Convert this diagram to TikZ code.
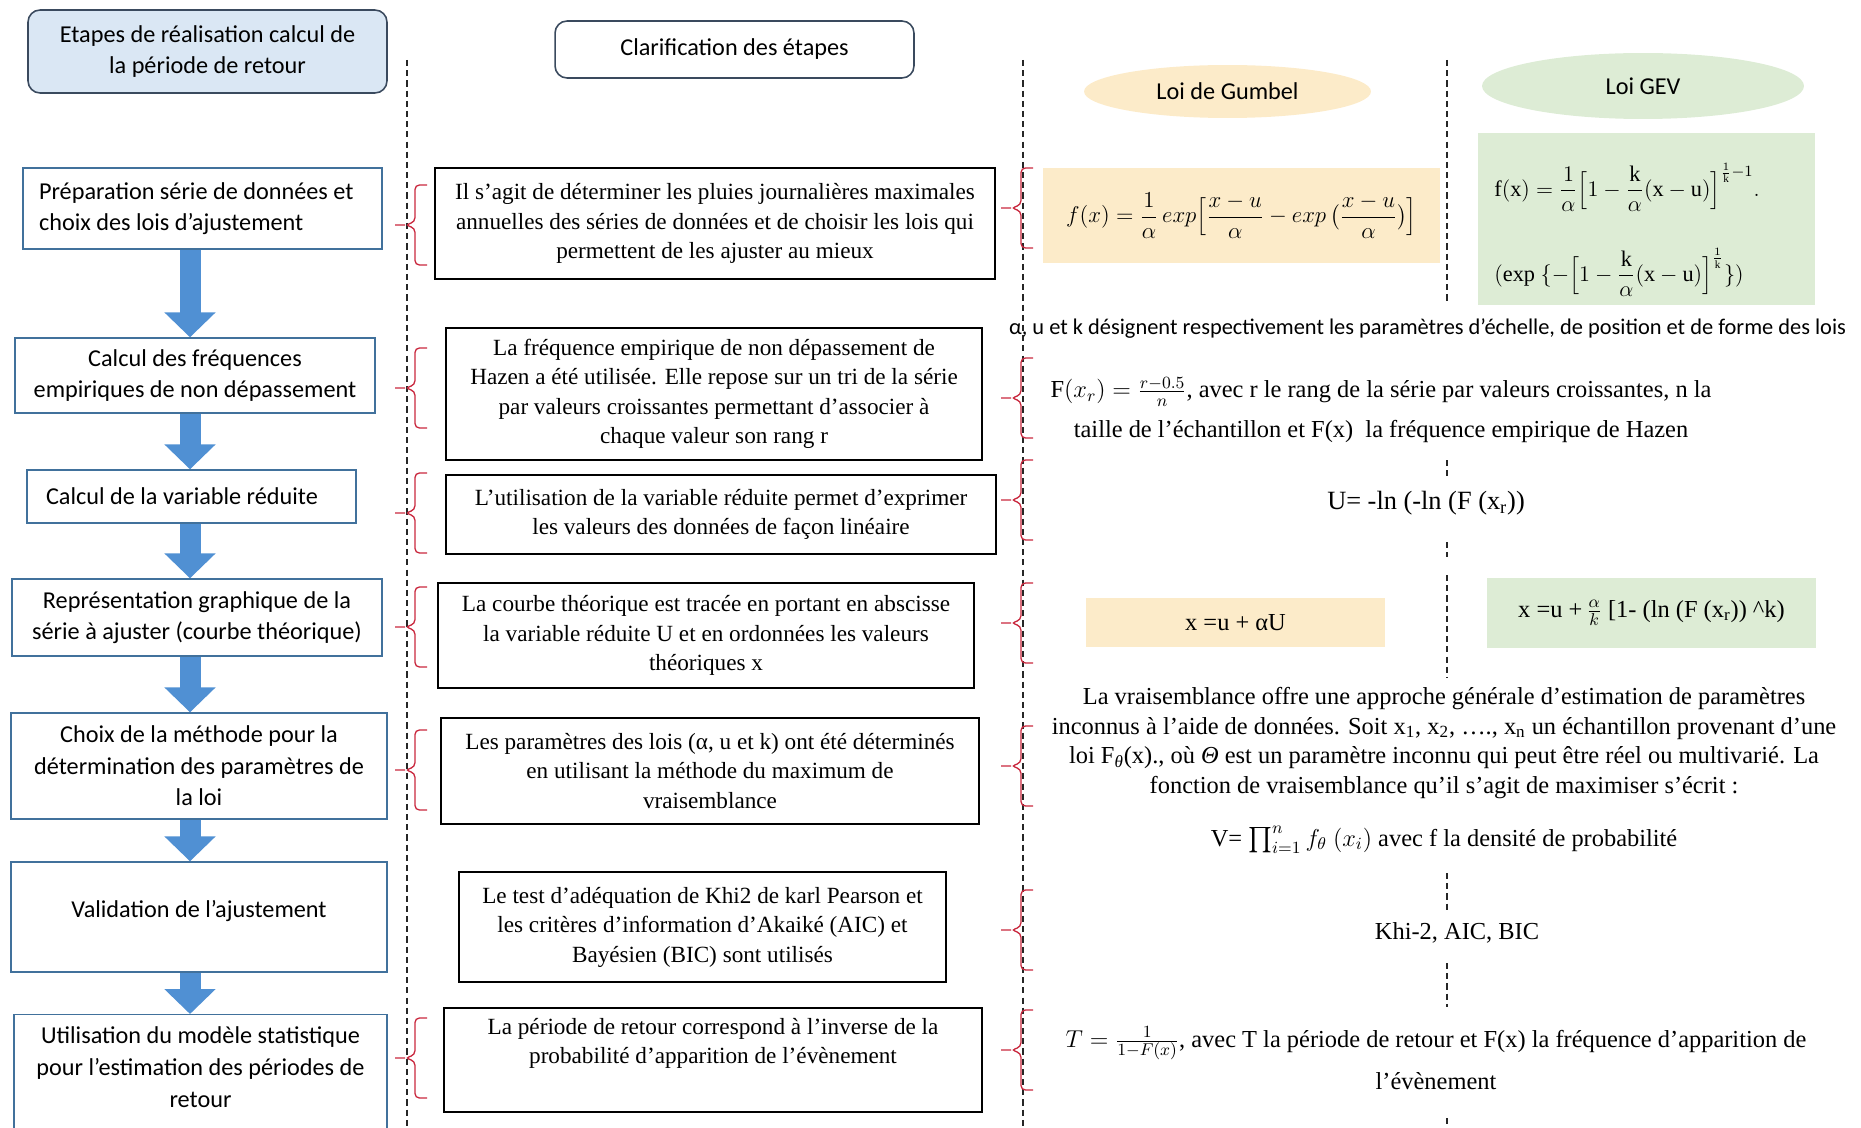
\RequirePackage{fix-cm}
\documentclass[tikz,border=0pt]{standalone}
\usepackage{amsmath}
\usepackage{fontspec}
\setmainfont{Liberation Serif}
\newfontfamily\calibfont{Carlito}
\usetikzlibrary{arrows.meta, positioning, shapes.geometric}

\definecolor{stepblue}{HTML}{41719C}
\definecolor{headline}{HTML}{3A4A5E}
\definecolor{headfill}{HTML}{DAE7F4}
\definecolor{arrowblue}{HTML}{5090D3}
\definecolor{bracered}{HTML}{C9283E}
\definecolor{gumbelfill}{HTML}{FCEBC9}
\definecolor{gevfill}{HTML}{DDECD5}

\begin{document}
\begin{tikzpicture}[
    x=0.02cm,
    y=-0.02cm,
    >=Stealth,
    stepbox/.style={draw=stepblue, line width=0.8pt, fill=white, align=center, inner sep=0pt,
        font=\calibfont\fontsize{13.8}{18}\selectfont},
    headbox/.style={draw=headline, line width=0.9pt, rounded corners=0.24cm, align=center, inner sep=0pt,
        font=\calibfont\fontsize{13.8}{18}\selectfont},
    notebox/.style={draw=black, line width=1pt, align=center, inner sep=0pt,
        font=\fontsize{13.2}{16.8}\selectfont},
    lawshape/.style={ellipse, inner sep=0pt, font=\calibfont\fontsize{13.8}{18}\selectfont},
    formbox/.style={inner sep=0pt, align=center, font=\fontsize{13.9}{16.8}\selectfont},
    plaintext/.style={inner sep=0pt, align=center, font=\fontsize{13.9}{16.8}\selectfont},
    flowarrow/.style={draw=arrowblue, line width=0.42cm, -{Triangle[width=1cm, length=0.5cm]}},
    vline/.style={draw=black!85, line width=0.7pt, dash pattern=on 3.5pt off 2.3pt},
    redbrace/.style={draw=bracered, line width=0.75pt, rounded corners=2.5pt}
]
\useasboundingbox (0,0) rectangle (1861,1128);

% Column separators
\draw[vline] (407,60) -- (407,1128);
\draw[vline] (1023,60) -- (1023,1128);
\foreach \ya/\yb in {60/303, 460/477, 542/557, 575/677, 873/910, 963/1007, 1118/1128}
    \draw[vline] (1447,\ya) -- (1447,\yb);

% =========================
% Steps
% =========================
\node[headbox, fill=headfill, minimum width=7.18cm, minimum height=1.66cm] (stepstitle)
    at (207.5,51.5) {Etapes de réalisation calcul de\\la période de retour};

\node[stepbox, minimum width=7.18cm, minimum height=1.62cm, align=flush left,
      text width=6.54cm, inner xsep=0.32cm] (prep)
    at (202.5,208.5) {Préparation série de données et\\choix des lois d’ajustement};
\node[stepbox, minimum width=7.2cm, minimum height=1.5cm] (freq)
    at (195,375.5) {Calcul des fréquences\\empiriques de non dépassement};
\node[stepbox, minimum width=6.58cm, minimum height=1.06cm, align=flush left,
      text width=5.82cm, inner xsep=0.38cm] (reduc)
    at (191.5,496.5) {Calcul de la variable réduite};
\node[stepbox, minimum width=7.4cm, minimum height=1.54cm] (graph)
    at (197,617.5) {Représentation graphique de la\\série à ajuster (courbe théorique)};
\node[stepbox, minimum width=7.52cm, minimum height=2.12cm] (method)
    at (199,766) {Choix de la méthode pour la\\détermination des paramètres de\\la loi};
\node[stepbox, minimum width=7.52cm, minimum height=2.2cm] (valid)
    at (199,917) {\raisebox{0.32cm}{Validation de l’ajustement}};
\node[stepbox, minimum width=7.46cm, minimum height=2.92cm, anchor=north] (usage)
    at (200.5,1014) {Utilisation du modèle statistique\\pour l’estimation des périodes de\\retour\\ \strut};

% Flow arrows
\coordinate (axis) at (190,0);
\foreach \a/\b in {prep/freq, freq/reduc, reduc/graph, graph/method, method/valid, valid/usage}
    \draw[flowarrow] (\a.south -| axis) -- (\b.north -| axis);

% =========================
% Clarification
% =========================
\node[headbox, fill=white, minimum width=7.18cm, minimum height=1.14cm] (cliftitle)
    at (734.5,49.5) {Clarification des étapes};

\node[notebox, minimum width=11.2cm, minimum height=2.22cm] (prepnote)
    at (715,223.5) {Il s’agit de déterminer les pluies journalières maximales\\
    annuelles des séries de données et de choisir les lois qui\\
    permettent de les ajuster au mieux};
\node[notebox, minimum width=10.72cm, minimum height=2.64cm] (freqnote)
    at (714,394) {La fréquence empirique de non dépassement de\\
    Hazen a été utilisée. Elle repose sur un tri de la série\\
    par valeurs croissantes permettant d’associer à\\
    chaque valeur son rang r};
\node[notebox, minimum width=11cm, minimum height=1.58cm] (reducnote)
    at (721,514.5) {L’utilisation de la variable réduite permet d’exprimer\\
    les valeurs des données de façon linéaire};
\node[notebox, minimum width=10.72cm, minimum height=2.1cm] (graphnote)
    at (706,635.5) {La courbe théorique est tracée en portant en abscisse\\
    la variable réduite U et en ordonnées les valeurs\\
    théoriques x};
\node[notebox, minimum width=10.76cm, minimum height=2.12cm] (methodnote)
    at (710,771) {Les paramètres des lois (α, u et k) ont été déterminés\\
    en utilisant la méthode du maximum de\\
    vraisemblance};
\node[notebox, minimum width=9.74cm, minimum height=2.2cm] (validnote)
    at (702.5,927) {Le test d’adéquation de Khi2 de karl Pearson et\\
    les critères d’information d’Akaiké (AIC) et\\
    Bayésien (BIC) sont utilisés};
\node[notebox, minimum width=10.76cm, minimum height=2.08cm] (usagenote)
    at (713,1060) {La période de retour correspond à l’inverse de la\\
    probabilité d’apparition de l’évènement\\ \strut};

% Braces (bar x / top y)
\foreach \bx/\ty in {415/185, 415/348, 415/473, 415/587, 415/730, 415/1018,
                     1021/168, 1021/358, 1021/460, 1021/583, 1021/726, 1021/890, 1021/1010}
    \draw[redbrace] (\bx+12,\ty) -- (\bx,\ty) -- (\bx,\ty+37) -- (\bx-10,\ty+40)
        -- (\bx,\ty+43) -- (\bx,\ty+80) -- (\bx+12,\ty+80)
        (\bx-10,\ty+40) -- (\bx-20,\ty+40);

% =========================
% Gumbel / GEV
% =========================
\node[lawshape, fill=gumbelfill, minimum width=5.74cm, minimum height=1.06cm] (gumbel)
    at (1227.5,91.5) {Loi de Gumbel};
\node[lawshape, fill=gevfill, minimum width=6.44cm, minimum height=1.32cm] (gev)
    at (1643,86) {Loi GEV};

\node[formbox, fill=gumbelfill, minimum width=7.94cm, minimum height=1.9cm,
      font=\fontsize{13}{17}\selectfont] (gumbelpdf)
    at (1241.5,215.5)
    {$f(x) = \dfrac{1}{\alpha}\,exp\Bigl[\dfrac{x-u}{\alpha} - exp\,\bigl(\dfrac{x-u}{\alpha}\bigr)\Bigr]$};
\node[fill=gevfill, minimum width=6.74cm, minimum height=3.44cm] (gevpdf) at (1646.5,219) {};
\node[formbox, align=left, anchor=west, font=\fontsize{12.7}{16.8}\selectfont] (gevtext) at (1494,230)
    {$\mathrm{f(x)} = \dfrac{1}{\alpha}\Bigl[1-\dfrac{\mathrm{k}}{\alpha}(\mathrm{x}-\mathrm{u})\Bigr]^{\frac{1}{\mathrm{k}}-1}.$\\[0.7cm]
     $(\mathrm{exp}\ \{-\Bigl[1-\dfrac{\mathrm{k}}{\alpha}(\mathrm{x}-\mathrm{u})\Bigr]^{\frac{1}{\mathrm{k}}}\})$};

\node[inner sep=0pt, font=\calibfont\fontsize{12.75}{15}\selectfont] (paramnote)
    at (1427.5,329) {α, u et k désignent respectivement les paramètres d’échelle, de position et de forme des lois};

\node[plaintext, font=\fontsize{13.9}{22.7}\selectfont] (hazen)
    at (1381,410) {F$(x_r) = \frac{r-0.5}{n}$, avec r le rang de la série par valeurs croissantes, n la\\
    taille de l’échantillon et F(x)\ \ la fréquence empirique de Hazen};

\node[plaintext, font=\fontsize{15}{18}\selectfont] (ured) at (1426,503) {U= -ln (-ln (F (x\textsubscript{r}))};

\node[formbox, fill=gumbelfill, minimum width=5.98cm, minimum height=0.98cm] (xgumbel)
    at (1235.5,622.5) {x =u + αU};
\node[formbox, fill=gevfill, minimum width=6.58cm, minimum height=1.4cm] (xgev)
    at (1651.5,613) {x =u +\,$\frac{\alpha}{k}$ [1- (ln (F (x\textsubscript{r})) \textasciicircum k)};

\node[plaintext] (vrais) at (1444,743)
    {La vraisemblance offre une approche générale d’estimation de paramètres\\
    inconnus à l’aide de données. Soit x\textsubscript{1}, x\textsubscript{2}, …., x\textsubscript{n} un échantillon provenant d’une\\
    loi F\textsubscript{\textit{θ}}(x)., où \textit{Θ} est un paramètre inconnu qui peut être réel ou multivarié. La\\
    fonction de vraisemblance qu’il s’agit de maximiser s’écrit :};

\node[plaintext] (vprod) at (1444,840)
    {V= $\prod_{i=1}^{n} f_{\theta}\ (x_i)$ avec f la densité de probabilité};

\node[plaintext] (khi) at (1457,933) {Khi-2, AIC, BIC};

\node[plaintext, font=\fontsize{13.9}{23.8}\selectfont] (tret) at (1436,1058)
    {$T = \frac{1}{1-F(x)}$, avec T la période de retour et F(x) la fréquence d’apparition de\\
    l’évènement};

\end{tikzpicture}
\end{document}
